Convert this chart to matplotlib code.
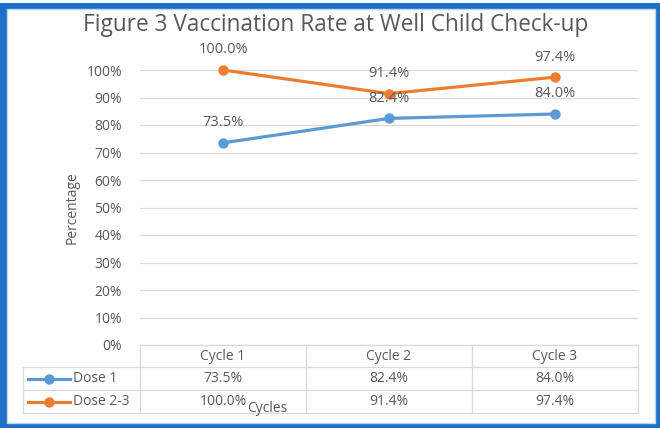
import matplotlib
matplotlib.use("Agg")
import matplotlib.pyplot as plt
from matplotlib.patches import Rectangle

categories = ["Cycle 1", "Cycle 2", "Cycle 3"]
dose1 = [73.5, 82.4, 84.0]
dose23 = [100.0, 91.4, 97.4]
series_names = ["Dose 1", "Dose 2-3"]
yticks = [0, 10, 20, 30, 40, 50, 60, 70, 80, 90, 100]

BLUE = "#5B9BD5"
ORANGE = "#ED7D31"
TXT = "#595959"
GRID = "#D9D9D9"
FONT = ["Open Sans", "DejaVu Sans"]
FS = 10
FSL = 10.5

W, H = 660, 428
fig = plt.figure(figsize=(W / 100, H / 100), dpi=100)
fig.patch.set_facecolor("white")

# overlay axes in pixel coords for frame and table
ov = fig.add_axes([0, 0, 1, 1], zorder=0)
ov.set_xlim(0, W)
ov.set_ylim(H, 0)
ov.axis("off")
ov.add_patch(Rectangle((0, 3), W, H - 3, facecolor="#1E6FC6", edgecolor="none"))
ov.add_patch(Rectangle((7, 9), 648, 414, facecolor="white", edgecolor="#BDD7EE", linewidth=1))

# plot axes
x0, x1, ytop, ybot = 140, 638, 70, 345
ax = fig.add_axes([x0 / W, 1 - ybot / H, (x1 - x0) / W, (ybot - ytop) / H], zorder=1)
ax.patch.set_alpha(0)
xs = list(range(len(categories)))
ax.set_xlim(-0.5, len(categories) - 0.5)
ax.set_ylim(0, 100)
ax.set_yticks(yticks)
ax.set_yticklabels([f"{v}%" for v in yticks], color=TXT, fontsize=FS, family=FONT)
ax.tick_params(axis="y", length=0, pad=13)
ax.set_xticks([])
for s in ax.spines.values():
    s.set_visible(False)
ax.grid(axis="y", color=GRID, linewidth=0.9)
ax.set_axisbelow(True)

ax.plot(xs, dose1, color=BLUE, linewidth=2.3, marker="o", markersize=6.5, clip_on=False)
ax.plot(xs, dose23, color=ORANGE, linewidth=2.3, marker="o", markersize=6.5, clip_on=False)
for xv, v in zip(xs, dose1):
    ax.annotate(f"{v:.1f}%", (xv, v), xytext=(0, 14.5), textcoords="offset points",
                ha="center", va="center", fontsize=FSL, color=TXT, family=FONT)
for xv, v in zip(xs, dose23):
    ax.annotate(f"{v:.1f}%", (xv, v), xytext=(0, 14.5), textcoords="offset points",
                ha="center", va="center", fontsize=FSL, color=TXT, family=FONT)

ax.set_ylabel("Percentage", color=TXT, fontsize=FS, family=FONT, labelpad=5)

fig.text(0.508, 1 - 25 / H, "Figure 3 Vaccination Rate at Well Child Check-up",
         ha="center", va="center", fontsize=16.3, color=TXT, family=FONT)

# data table
col_w = (x1 - x0) / len(categories)
rows_y = [345, 367, 390, 413]
ov.plot([x0, x1], [rows_y[0], rows_y[0]], color=GRID, lw=0.9)
for yy in rows_y[1:]:
    ov.plot([23, x1], [yy, yy], color=GRID, lw=0.9)
ov.plot([23, 23], [rows_y[1], rows_y[3]], color=GRID, lw=0.9)
for i in range(len(categories) + 1):
    xx = x0 + i * col_w
    ov.plot([xx, xx], [rows_y[0], rows_y[3]], color=GRID, lw=0.9)
for i, c in enumerate(categories):
    ov.text(x0 + (i + 0.5) * col_w, (rows_y[0] + rows_y[1]) / 2, c, ha="center", va="center",
            fontsize=FS, color=TXT, family=FONT)
for r, (name, vals, col) in enumerate(zip(series_names, [dose1, dose23], [BLUE, ORANGE])):
    yc = (rows_y[r + 1] + rows_y[r + 2]) / 2
    ov.plot([28, 70], [yc, yc], color=col, lw=2.3)
    ov.plot([49], [yc], marker="o", color=col, markersize=6.5)
    ov.text(73, yc, name, ha="left", va="center", fontsize=FS, color=TXT, family=FONT)
    for i, v in enumerate(vals):
        ov.text(x0 + (i + 0.5) * col_w, yc, f"{v:.1f}%", ha="center", va="center",
                fontsize=FS, color=TXT, family=FONT)

ov.text(267, 409, "Cycles", ha="center", va="center", fontsize=FS, color=TXT, family=FONT)

fig.savefig("out.png", dpi=100, facecolor="white")
